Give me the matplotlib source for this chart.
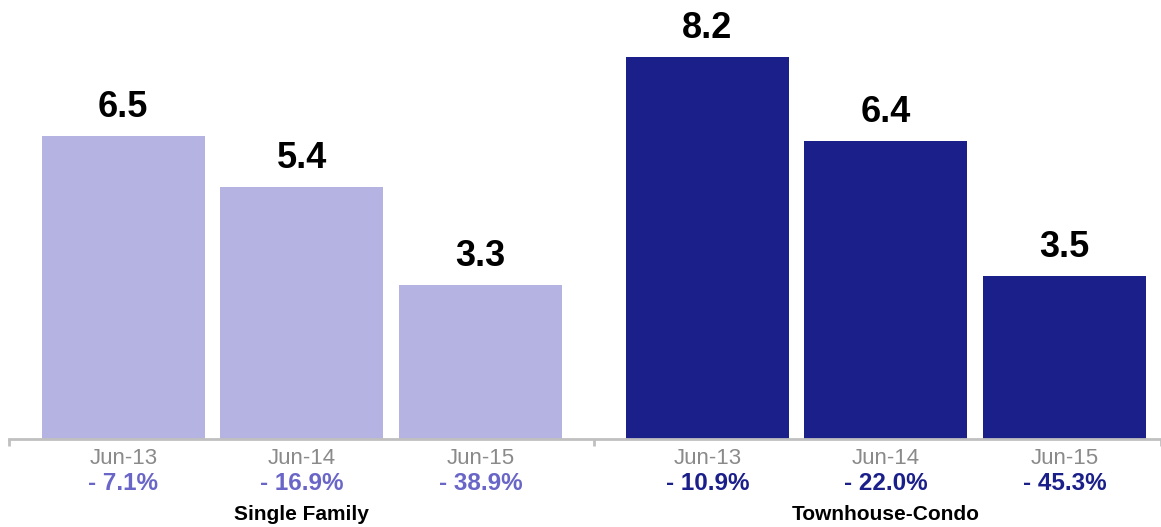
import matplotlib
matplotlib.use("Agg")
import matplotlib.pyplot as plt
from matplotlib.transforms import blended_transform_factory

groups = ["Single Family", "Townhouse-Condo"]
periods = ["Jun-13", "Jun-14", "Jun-15"]
values = [[6.5, 5.4, 3.3], [8.2, 6.4, 3.5]]
changes = [["- 7.1%", "- 16.9%", "- 38.9%"], ["- 10.9%", "- 22.0%", "- 45.3%"]]
bar_colors = ["#b4b3e2", "#1b1f8a"]
pct_colors = ["#6a66c8", "#1b1f8a"]

plt.rcParams['font.family'] = ['Liberation Sans', 'DejaVu Sans']

fig = plt.figure(figsize=(11.61, 5.27), dpi=100)
ax = fig.add_axes([9/1161, 88/527, 1152/1161, 439/527])

group_gap = 3.27
xlim = (-0.64, 5.81)
ax.set_xlim(*xlim)
ax.set_ylim(0, 439/46.6)

trans = blended_transform_factory(ax.transData, fig.transFigure)
for g, grp in enumerate(groups):
    xs = [g*group_gap + i for i in range(len(periods))]
    ax.bar(xs, values[g], width=0.913, color=bar_colors[g])
    for x, v, p, c in zip(xs, values[g], periods, changes[g]):
        ax.annotate(f"{v:.1f}", (x, v), xytext=(0, 8), textcoords="offset points",
                    ha="center", va="bottom", fontsize=26, fontweight="bold", color="black")
        ax.text(x, 1 - 458/527, p, transform=trans, ha="center", va="center",
                fontsize=16, color="#8a8a8a")
        ax.text(x, 1 - 484/527, c, transform=trans, ha="center", va="center",
                fontsize=17.5, fontweight="bold", color=pct_colors[g])
    ax.text(xs[1], 1 - 514/527, grp, transform=trans, ha="center", va="center",
            fontsize=15, fontweight="bold", color="black")

for s in ["top", "right", "left"]:
    ax.spines[s].set_visible(False)
ax.spines["bottom"].set_color("#c0c0c0")
ax.spines["bottom"].set_linewidth(2)
ax.set_yticks([])
ax.set_xticks([xlim[0], (2 + group_gap) / 2, xlim[1]])
ax.set_xticklabels([])
ax.tick_params(axis="x", length=5, width=2, color="#c0c0c0")

fig.savefig("out.png", dpi=100)
